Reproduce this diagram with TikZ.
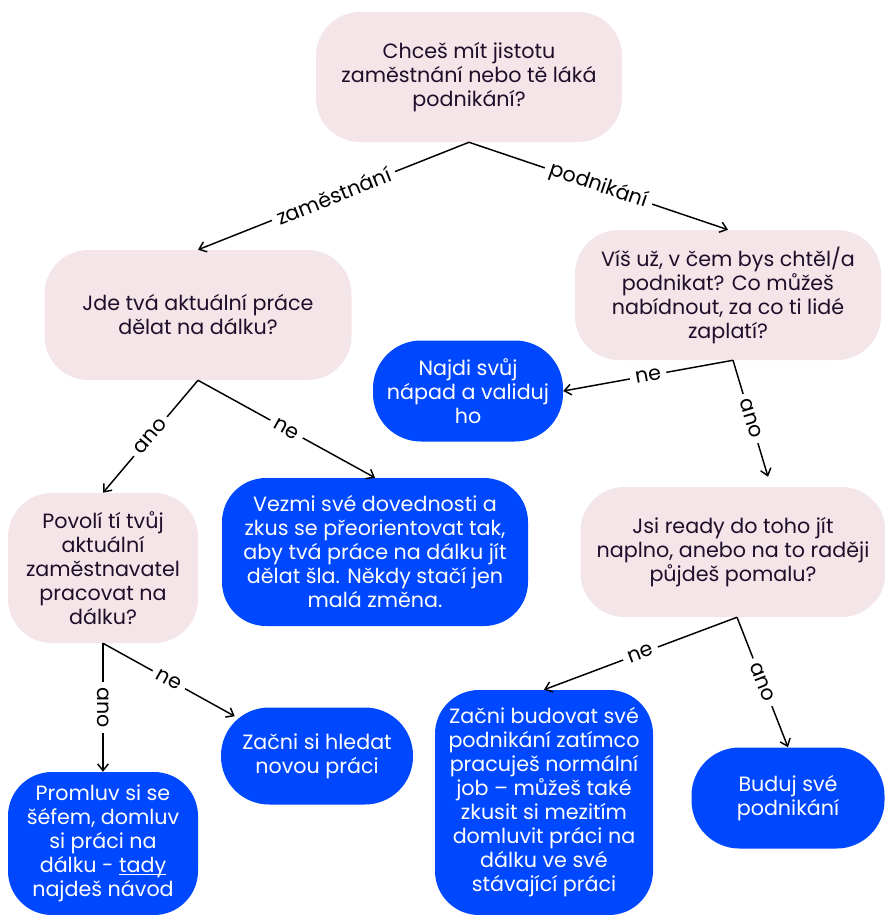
\documentclass[tikz,border=0pt]{standalone}
\usepackage{fontspec}
\setmainfont{Poppins}
\usetikzlibrary{arrows.meta,calc}
\definecolor{pinkbox}{HTML}{F3E5E8}
\definecolor{bluebox}{HTML}{0048FF}
\definecolor{darktext}{HTML}{1E0E2A}
\newcommand\myul[1]{\setbox0\hbox{#1}\rlap{\rule[-1.6pt]{\wd0}{0.7pt}}\box0}
\begin{document}
\begin{tikzpicture}[x=0.75pt,y=-0.75pt,
  base/.style={rounded corners=33pt, align=center, inner sep=0pt,
    font=\fontsize{15.5}{18}\selectfont},
  sz/.style 2 args={minimum width=#1*0.75pt, minimum height=#2*0.75pt},
  q/.style={base, fill=pinkbox, text=darktext},
  a/.style={base, fill=bluebox, text=white},
  pill/.style={rounded corners=36pt},
  arr/.style={line width=1.1pt, -{Straight Barb[length=5pt,width=8pt]}},
  lbl/.style={midway, sloped, fill=white, inner sep=4pt, font=\fontsize{15.5}{18}\selectfont},
  lblv/.style={midway, rotate=-90, fill=white, inner sep=4pt, font=\fontsize{15.5}{18}\selectfont}
]
\useasboundingbox (0,0) rectangle (885,915);
\fill[white] (0,0) rectangle (885,915);

\node[q, sz={306}{130}] (n1) at (469,77) {Chceš mít jistotu\\zaměstnání nebo tě láká\\podnikání?};
\node[q, sz={307}{130}] (n2) at (198,315) {Jde tvá aktuální práce\\dělat na dálku?};
\node[q, sz={306}{130}] (n3) at (728,295) {Víš už, v čem bys chtěl/a\\podnikat? Co můžeš\\nabídnout, za co ti lidé\\zaplatí?};
\node[a, pill, sz={190}{101}] (n4) at (468,391) {Najdi svůj\\nápad a validuj\\ho};
\node[a, sz={306}{148}] (n5) at (375,552) {Vezmi své dovednosti a\\zkus se přeorientovat tak,\\aby tvá práce na dálku jít\\dělat šla. Někdy stačí jen\\malá změna.};
\node[q, sz={190}{150}] (n6) at (103,568) {Povolí tí tvůj\\aktuální\\zaměstnavatel\\pracovat na\\dálku?};
\node[q, sz={305}{130}] (n7) at (733,552) {Jsi ready do toho jít\\naplno, anebo na to raději\\půjdeš pomalu?};
\node[a, pill, sz={192}{97}] (n8) at (317,756) {Začni si hledat\\novou práci};
\node[a, sz={190}{143}] (n9) at (103,843.5) {Promluv si se\\šéfem, domluv\\si práci na\\dálku - \myul{tady}\\najdeš návod};
\node[a, sz={218}{225}] (n10) at (544,802.5) {Začni budovat své\\podnikání zatímco\\pracuješ normální\\job – můžeš také\\zkusit si mezitím\\domluvit práci na\\dálku ve své\\stávající práci};
\node[a, pill, sz={193}{101}] (n11) at (788,798) {Buduj své\\podnikání};

\draw[arr] (n1.south) -- node[lbl]{zaměstnání} (n2.north);
\draw[arr] (n1.south) -- node[lbl]{podnikání} (n3.north);
\draw[arr] (n2.south) -- node[lbl]{ano} (n6.north);
\draw[arr] (n2.south) -- node[lbl]{ne} (n5.north);
\draw[arr] ($(n3.south)+(5,0)$) -- node[lbl]{ne} (n4.east);
\draw[arr] ($(n3.south)+(5,0)$) -- node[lbl]{ano} ($(n7.north)+(35,-10)$);
\draw[arr] ($(n7.south)+(4,0)$) -- node[lbl]{ne} (n10.north);
\draw[arr] ($(n7.south)+(4,0)$) -- node[lbl]{ano} (n11.north);
\draw[arr] (n6.south) -- node[lblv]{ano} (n9.north);
\draw[arr] (n6.south) -- node[lbl]{ne} ($(n8.north west)+(14,9)$);
\end{tikzpicture}
\end{document}
